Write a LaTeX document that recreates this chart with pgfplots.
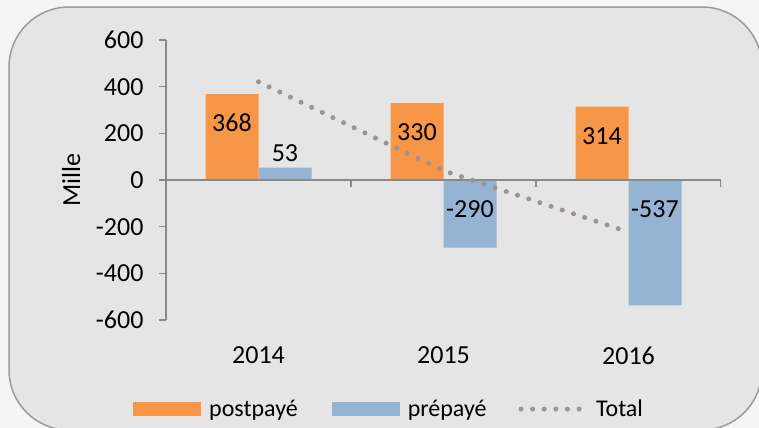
\documentclass[border=0pt]{standalone}
\usepackage{pgfplots}
\pgfplotsset{compat=1.18}
\usepackage{pgfplotstable}
\usepackage{fontspec}
\setmainfont{Carlito}
\definecolor{outerbg}{RGB}{245,245,245}
\definecolor{innerbg}{RGB}{229,229,229}
\definecolor{framec}{RGB}{155,155,155}
\definecolor{axisc}{RGB}{137,137,137}
\definecolor{postc}{RGB}{247,150,70}
\definecolor{prec}{RGB}{149,179,211}
\definecolor{totc}{RGB}{158,146,146}
\pgfplotstableread{
x post pre total posty prey
0 368 53 421 244 116
1 330 -290 40 206 -124
2 314 -537 -223 189 -124
}\data
\begin{document}
\begin{tikzpicture}
\useasboundingbox (0,0) rectangle (759bp,-428bp);
\begin{scope}
\clip (0,0) rectangle (759bp,-428bp);
\fill[outerbg] (0,0) rectangle (759bp,-428bp);
\draw[framec, line width=1.5bp, fill=innerbg, rounded corners=60bp] (9bp,-7bp) rectangle (762bp,-430bp);
\end{scope}
\begin{axis}[
  at={(166bp,-320bp)}, anchor=south west,
  scale only axis, width=555bp, height=280bp,
  font=\fontsize{26bp}{30bp}\selectfont,
  /pgf/number format/assume math mode=true,
  xmin=-0.5, xmax=2.5, ymin=-600, ymax=600,
  axis y line*=left, axis x line*=bottom,
  x axis line style={draw=none},
  y axis line style={axisc, line width=1.2bp},
  ytick={-600,-400,...,600},
  xtick={0,1,2}, xticklabels={2014,2015,2016},
  xtick style={draw=none},
  ytick style={axisc, line width=1.2bp},
  tick align=outside, major tick length=7bp,
  xticklabel style={yshift=-16bp},
  yticklabel style={anchor=east, xshift=-12bp},
  ylabel={Mille},
  ylabel style={at={(axis description cs:-0.171,0.5)}, anchor=center},
  ybar=0pt, bar width=53bp,
  legend columns=3,
  legend style={at={(axis description cs:-0.0595,-0.318)}, anchor=west,
    draw=none, fill=none, inner sep=0pt,
    font=\fontsize{24bp}{28bp}\selectfont,
    nodes={inner sep=0pt},
    /tikz/column 1/.style={column sep=8bp},
    /tikz/column 2/.style={column sep=34bp},
    /tikz/column 3/.style={column sep=8bp},
    /tikz/column 4/.style={column sep=32bp},
    /tikz/column 5/.style={column sep=14bp}},
]
\addplot[fill=postc, draw=none, bar shift=-26.5bp,
  legend image code/.code={\fill[postc] (0bp,-7bp) rectangle (68bp,7bp);}]
  table[x=x, y=post] {\data};
\addlegendentry{postpayé}
\addplot[fill=prec, draw=none, bar shift=26.5bp,
  legend image code/.code={\fill[prec] (0bp,-7bp) rectangle (68bp,7bp);}]
  table[x=x, y=pre] {\data};
\addlegendentry{prépayé}
\draw[axisc, line width=1.2bp] (axis cs:-0.5,0) -- (axis cs:2.5,0);
\draw[axisc, line width=1.2bp] (axis cs:0.5,0) -- ([yshift=-7bp]axis cs:0.5,0);
\draw[axisc, line width=1.2bp] (axis cs:1.5,0) -- ([yshift=-7bp]axis cs:1.5,0);
\draw[axisc, line width=1.2bp] (axis cs:2.5,0) -- ([yshift=-7bp]axis cs:2.5,0);
\addplot[sharp plot, totc, line width=5bp, line cap=round, dash pattern=on 0bp off 11.8bp, mark=none,
  legend image code/.code={\draw[totc, line width=5bp, line cap=round, dash pattern=on 0bp off 11.6bp] (2.5bp,0) -- (61bp,0);}]
  table[x=x, y=total] {\data};
\addlegendentry{Total}
\addplot[only marks, mark=*, mark size=0pt, mark options={draw=none, fill=none}, forget plot, bar shift=0pt,
  nodes near coords, point meta=explicit symbolic,
  every node near coord/.append style={anchor=center, inner sep=0pt, text=black}]
  table[x expr=\thisrow{x}-0.1432, y=posty, meta=post] {\data};
\addplot[only marks, mark=*, mark size=0pt, mark options={draw=none, fill=none}, forget plot, bar shift=0pt,
  nodes near coords, point meta=explicit symbolic,
  every node near coord/.append style={anchor=center, inner sep=0pt, text=black}]
  table[x expr=\thisrow{x}+0.1432, y=prey, meta=pre] {\data};
\end{axis}
\end{tikzpicture}
\end{document}
